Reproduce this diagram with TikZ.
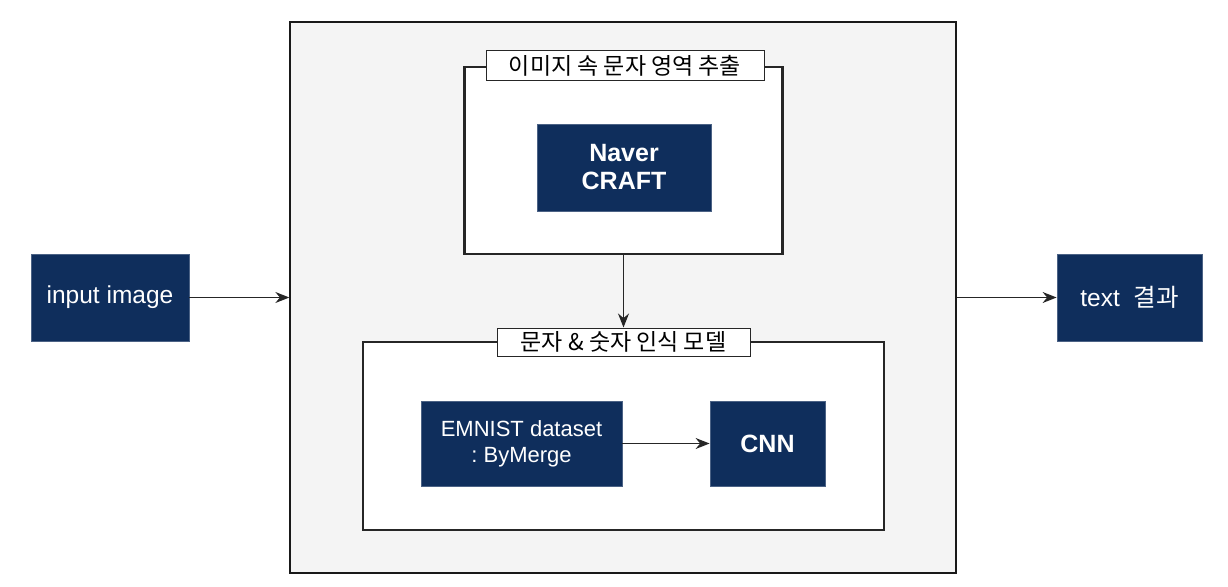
\documentclass[tikz,border=0pt]{standalone}
\usepackage{fontspec}
\setmainfont{Liberation Sans}
\newfontfamily\kr{Noto Sans CJK KR}
\usetikzlibrary{arrows.meta}
\definecolor{navy}{HTML}{0F2E5C}
\definecolor{panel}{HTML}{F4F4F4}
\begin{document}
\begin{tikzpicture}[x=1pt,y=-1pt,
  navybox/.style={fill=navy, draw=navy!75!white, line width=0.8pt, text=white, align=center, inner sep=0pt,
    font=\fontsize{24.5}{28}\selectfont},
  smallnavy/.style={navybox, font=\fontsize{22}{26}\selectfont},
  boldbox/.style={navybox, font=\fontsize{25}{28}\selectfont\bfseries},
  frame/.style={draw=black!85, fill=white, line width=2.2pt, inner sep=0pt},
  tag/.style={draw=black!85, fill=white, line width=1pt, inner sep=0pt,
    font=\kr\fontsize{23}{26}\selectfont},
  conn/.style={draw=black!85, line width=1.3pt, -{Stealth[length=14pt,width=11pt]}}]
\useasboundingbox (0,0) rectangle (1228,586);
\fill[white] (0,0) rectangle (1228,586);

\node[draw=black!90, fill=panel, line width=1.3pt, minimum width=666pt, minimum height=551pt, inner sep=0pt] (outer) at (623,297.5) {};

\node[frame, minimum width=318pt, minimum height=187pt] (topframe) at (623.5,160.5) {};
\node[tag, minimum width=278pt, minimum height=29pt] (toptag) at (625,65.5) {이미지 속 문자 영역 추출};
\node[boldbox, minimum width=174pt, minimum height=87pt] (naver) at (624,167.5) {Naver\\CRAFT};

\node[frame, minimum width=521pt, minimum height=188pt] (botframe) at (623.5,436) {};
\node[tag, minimum width=253pt, minimum height=28pt] (bottag) at (623.5,342) {문자 \&{} 숫자 인식 모델};
\node[smallnavy, minimum width=201pt, minimum height=85pt] (emnist) at (521.5,443.5) {EMNIST dataset\\{:}\ ByMerge};
\node[boldbox, minimum width=115pt, minimum height=85pt] (cnn) at (767.5,443.5) {CNN};

\node[navybox, minimum width=158pt, minimum height=87pt] (input) at (110,297.5) {input image};
\node[navybox, minimum width=145pt, minimum height=87pt] (result) at (1129.5,297.5) {text\ \ {\kr 결과}};

\draw[conn] (input.east) -- (outer.west);
\draw[conn] (outer.east) -- (result.west);
\draw[conn] (topframe.south) -- (topframe.south |- bottag.north);
\draw[conn] (emnist.east) -- (cnn.west);
\end{tikzpicture}
\end{document}
